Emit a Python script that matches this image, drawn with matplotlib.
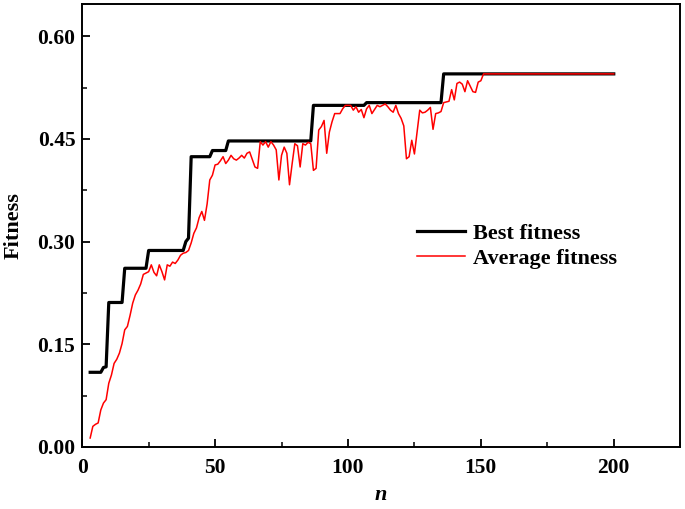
import matplotlib

matplotlib.use("Agg")
import matplotlib.pyplot as plt
from matplotlib.ticker import MultipleLocator

plt.rcParams["font.family"] = ["Liberation Serif", "DejaVu Serif"]
plt.rcParams["font.weight"] = "bold"

# best fitness: (generation, value) at each change of level
best_n = [3, 7, 8, 9, 10, 15, 16, 24, 25, 38, 39, 40, 41, 48, 49, 54, 55,
          86, 87, 106, 107, 135, 136, 200]
best_val = [0.109, 0.109, 0.116, 0.117, 0.211, 0.211, 0.261, 0.261, 0.287,
            0.287, 0.300, 0.305, 0.424, 0.424, 0.433, 0.433, 0.447, 0.447,
            0.499, 0.499, 0.503, 0.503, 0.545, 0.545]

# average fitness per generation (flat after 151)
avg_n = list(range(3, 152)) + [200]
avg_val = [
    0.013, 0.030, 0.033, 0.035, 0.054, 0.064, 0.069, 0.093, 0.105, 0.122,  # 3-12
    0.128, 0.137, 0.151, 0.171, 0.176, 0.192, 0.210, 0.222, 0.229, 0.238,  # 13-22
    0.252, 0.254, 0.256, 0.266, 0.255, 0.250, 0.266, 0.256, 0.244, 0.266,  # 23-32
    0.264, 0.270, 0.268, 0.273, 0.280, 0.283, 0.284, 0.287, 0.298, 0.312,  # 33-42
    0.320, 0.335, 0.344, 0.331, 0.355, 0.390, 0.397, 0.412, 0.413, 0.418,  # 43-52
    0.424, 0.414, 0.419, 0.426, 0.421, 0.419, 0.422, 0.426, 0.422, 0.429,  # 53-62
    0.431, 0.420, 0.409, 0.407, 0.446, 0.441, 0.446, 0.438, 0.446, 0.441,  # 63-72
    0.434, 0.390, 0.426, 0.438, 0.429, 0.383, 0.414, 0.443, 0.440, 0.409,  # 73-82
    0.443, 0.441, 0.445, 0.443, 0.404, 0.407, 0.463, 0.468, 0.477, 0.429,  # 83-92
    0.460, 0.475, 0.487, 0.487, 0.487, 0.494, 0.499, 0.499, 0.499, 0.492,  # 93-102
    0.497, 0.489, 0.493, 0.481, 0.494, 0.499, 0.487, 0.493, 0.499, 0.497,  # 103-112
    0.499, 0.501, 0.497, 0.492, 0.489, 0.499, 0.487, 0.480, 0.469, 0.421,  # 113-122
    0.424, 0.448, 0.428, 0.460, 0.492, 0.488, 0.489, 0.492, 0.496, 0.464,  # 123-132
    0.487, 0.488, 0.490, 0.503, 0.504, 0.505, 0.522, 0.507, 0.531, 0.533,  # 133-142
    0.530, 0.519, 0.535, 0.527, 0.519, 0.518, 0.533, 0.535, 0.545,         # 143-151
    0.545,                                                                 # 200
]

fig = plt.figure(figsize=(6.85, 5.09), dpi=100)
ax = fig.add_axes([0.12, 0.122, 0.873, 0.870])

ax.plot(best_n, best_val, color="black", linewidth=2.3, label="Best fitness")
ax.plot(avg_n, avg_val, color="red", linewidth=1.1, label="Average fitness")

ax.set_xlim(0, 225)
ax.set_ylim(0, 0.647)
ax.xaxis.set_major_locator(MultipleLocator(50))
ax.xaxis.set_minor_locator(MultipleLocator(25))
ax.yaxis.set_major_locator(MultipleLocator(0.15))
ax.yaxis.set_minor_locator(MultipleLocator(0.075))
ax.yaxis.set_major_formatter(lambda v, pos: f"{v:.2f}")

ax.tick_params(which="major", direction="in", length=6, width=1.3, labelsize=15.5)
ax.tick_params(which="minor", direction="in", length=3.5, width=1.1)
ax.tick_params(axis="x", pad=8)
ax.tick_params(axis="y", pad=5)
for sp in ax.spines.values():
    sp.set_linewidth(1.4)

ax.set_xlabel("n", fontsize=16, fontweight="bold", fontstyle="italic", labelpad=5)
ax.set_ylabel("Fitness", fontsize=16, fontweight="bold", labelpad=10)

ax.legend(loc="upper left", bbox_to_anchor=(0.527, 0.55), frameon=False,
          fontsize=16, handlelength=2.15, handletextpad=0.35, labelspacing=0.2)

fig.savefig("out.png", dpi=100)
